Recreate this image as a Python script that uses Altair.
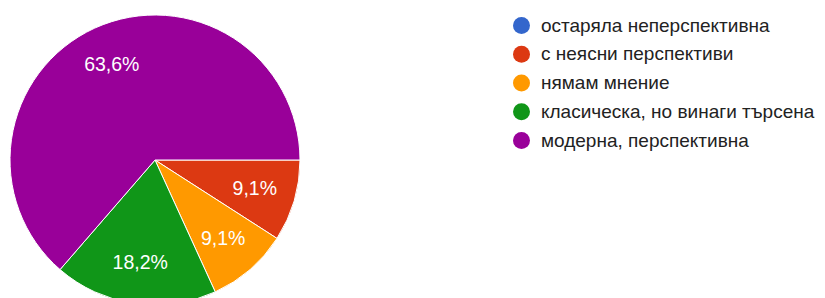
import math
import altair as alt
import pandas as pd

categories = ["остаряла неперспективна", "с неясни перспективи", "нямам мнение",
              "класическа, но винаги търсена", "модерна, перспективна"]
values = [0, 1, 1, 2, 7]
percent_labels = ["", "9,1%", "9,1%", "18,2%", "63,6%"]
colors = ["#3366cc", "#dc3912", "#ff9900", "#109618", "#990099"]

df = pd.DataFrame({
    "category": categories,
    "value": values,
    "label": percent_labels,
    "order": list(range(len(categories))),
})

CX, CY, R = 155 - 8, 160 - 8, 145
start = math.pi / 2
theta_scale = alt.Scale(range=[start, start + 2 * math.pi])

color = alt.Color(
    "category:N",
    scale=alt.Scale(domain=categories, range=colors),
    sort=categories,
    legend=alt.Legend(
        title=None, orient="none", legendX=504, legendY=8,
        symbolType="circle", symbolSize=289, symbolStrokeWidth=0,
        labelFont="Liberation Sans", labelFontSize=19, labelColor="#222222",
        labelOffset=10, rowPadding=8.75, padding=0, labelLimit=400,
    ),
)

base = alt.Chart(df).encode(
    theta=alt.Theta("value:Q", stack=True, scale=theta_scale),
    order=alt.Order("order:Q", sort="ascending"),
)

pie = base.mark_arc(outerRadius=R, stroke="white", strokeWidth=1).encode(
    color=color,
    x=alt.value(CX), y=alt.value(CY),
)

text = base.transform_filter("datum.value > 0").mark_text(
    radius=104, font="Liberation Sans", fontSize=19.5, color="white",
    align="center", baseline="middle",
).encode(
    text="label:N",
    x=alt.value(CX), y=alt.value(CY),
)

chart = (pie + text).properties(
    width=809, height=290, padding=0, background="white",
    autosize=alt.AutoSizeParams(type="none"),
).configure_view(stroke=None, strokeWidth=0)

chart.save("out.html", embed_options={"renderer": "svg", "actions": False})
